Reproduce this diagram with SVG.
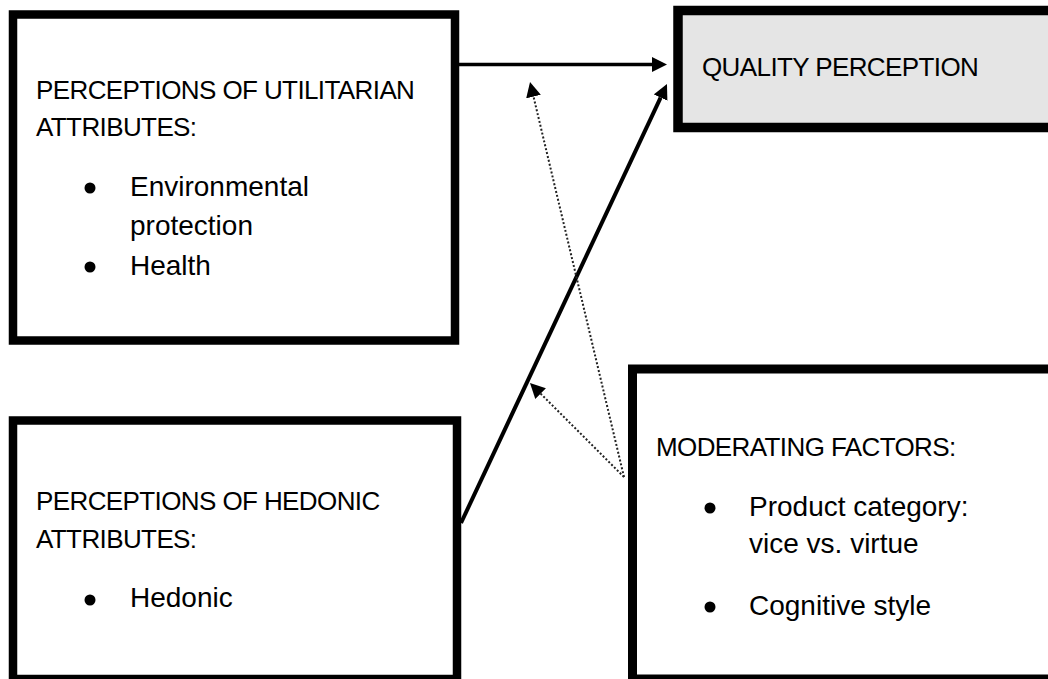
<svg xmlns="http://www.w3.org/2000/svg" width="1048" height="679" viewBox="0 0 1048 679">
<style>
.box{fill:#ffffff;stroke:#000000;stroke-width:8.5}
.qbox{fill:#e5e5e5;stroke:#000000;stroke-width:9.5}
.t{font-family:"Liberation Sans",Arial,sans-serif;font-size:26px;letter-spacing:-0.6px;fill:#000}
.b{font-family:"Liberation Sans",Arial,sans-serif;font-size:28px;fill:#000}
.solid{stroke:#000;stroke-width:3.5;fill:none}
.dot{stroke:#222;stroke-width:2;stroke-dasharray:2 2;fill:none}
</style>
<defs>
<marker id="ah" markerUnits="userSpaceOnUse" markerWidth="15" markerHeight="15" refX="0" refY="7.5" orient="auto" viewBox="0 0 15 15">
<path d="M0,0 L15,7.5 L0,15 z" fill="#000"/>
</marker>
</defs>
<rect width="1048" height="679" fill="#fff"/>
<g id="utilitarian">
<rect class="box" x="13" y="14.5" width="442" height="326"/>
<text class="t" x="36" y="99">PERCEPTIONS OF UTILITARIAN</text>
<text class="t" x="36" y="136">ATTRIBUTES:</text>
<circle cx="90" cy="188" r="5.5" fill="#000"/>
<text class="b" x="130" y="196">Environmental</text>
<text class="b" x="130" y="235">protection</text>
<circle cx="90" cy="267" r="5.5" fill="#000"/>
<text class="b" x="130" y="275">Health</text>
</g>
<g id="quality">
<rect class="qbox" x="678" y="10.5" width="400" height="117"/>
<text class="t" x="702" y="76">QUALITY PERCEPTION</text>
</g>
<g id="hedonic">
<rect class="box" x="13" y="420.5" width="444" height="258.5"/>
<text class="t" x="36" y="510">PERCEPTIONS OF HEDONIC</text>
<text class="t" x="36" y="548">ATTRIBUTES:</text>
<circle cx="90" cy="600" r="5.5" fill="#000"/>
<text class="b" x="130" y="607">Hedonic</text>
</g>
<g id="moderating">
<rect class="box" x="632.5" y="369" width="450" height="310" style="stroke-width:9"/>
<text class="t" x="656" y="456">MODERATING FACTORS:</text>
<circle cx="710" cy="508" r="5.5" fill="#000"/>
<text class="b" x="749" y="516">Product category:</text>
<text class="b" x="749" y="553">vice vs. virtue</text>
<circle cx="710" cy="607" r="5.5" fill="#000"/>
<text class="b" x="749" y="615">Cognitive style</text>
</g>
<g id="connectors">
<line class="solid" x1="459" y1="64.5" x2="652" y2="64.5" marker-end="url(#ah)"/>
<line class="solid" x1="461" y1="523" x2="660.6" y2="97.6" style="stroke-width:4" marker-end="url(#ah)"/>
<line class="dot" x1="624" y1="477" x2="533.5" y2="96.6" marker-end="url(#ah)"/>
<line class="dot" x1="624" y1="477" x2="540.6" y2="393.6" marker-end="url(#ah)"/>
</g>
</svg>
